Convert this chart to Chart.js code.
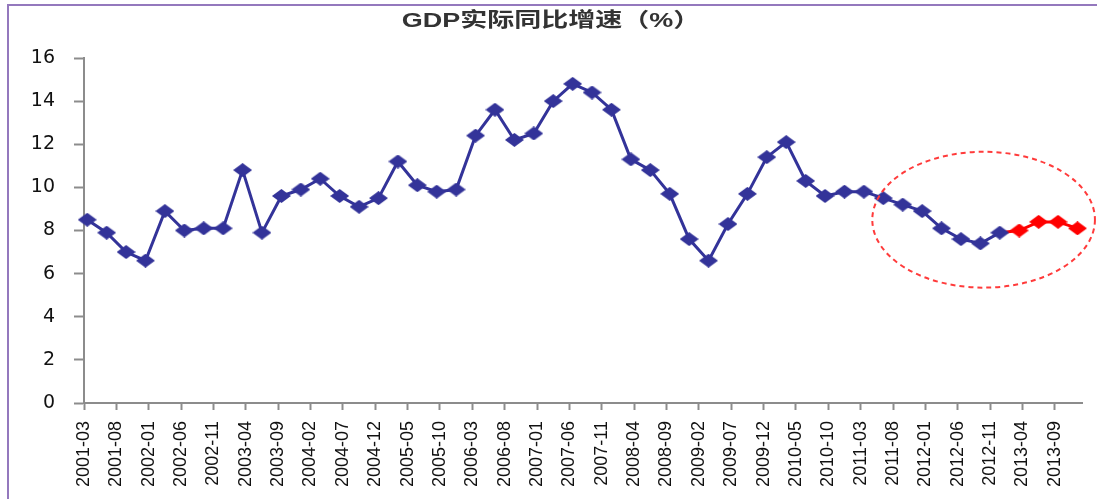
<!DOCTYPE html>
<html>
<head>
<meta charset="utf-8">
<script src="https://cdn.jsdelivr.net/npm/chart.js@4.4.0/dist/chart.umd.min.js"></script>
<style>
  html, body { margin: 0; padding: 0; background: #fff; }
  #wrap { width: 1097px; height: 499px; position: relative; }
</style>
</head>
<body>
<div id="wrap"><canvas id="gdpChart"></canvas></div>
<script>
const chartTitle = 'GDP实际同比增速（%）';

// quarter end months, 2001 Q1 .. 2013 Q4
const quarters = [
    '2001-03', '2001-06', '2001-09', '2001-12',
    '2002-03', '2002-06', '2002-09', '2002-12',
    '2003-03', '2003-06', '2003-09', '2003-12',
    '2004-03', '2004-06', '2004-09', '2004-12',
    '2005-03', '2005-06', '2005-09', '2005-12',
    '2006-03', '2006-06', '2006-09', '2006-12',
    '2007-03', '2007-06', '2007-09', '2007-12',
    '2008-03', '2008-06', '2008-09', '2008-12',
    '2009-03', '2009-06', '2009-09', '2009-12',
    '2010-03', '2010-06', '2010-09', '2010-12',
    '2011-03', '2011-06', '2011-09', '2011-12',
    '2012-03', '2012-06', '2012-09', '2012-12',
    '2013-03', '2013-06', '2013-09', '2013-12'
];

// actual growth (blue)
const actual = [
    8.5, 7.9, 7.0, 6.6,
    8.9, 8.0, 8.1, 8.1,
    10.8, 7.9, 9.6, 9.9,
    10.4, 9.6, 9.1, 9.5,
    11.2, 10.1, 9.8, 9.9,
    12.4, 13.6, 12.2, 12.5,
    14.0, 14.8, 14.4, 13.6,
    11.3, 10.8, 9.7, 7.6,
    6.6, 8.3, 9.7, 11.4,
    12.1, 10.3, 9.6, 9.8,
    9.8, 9.5, 9.2, 8.9,
    8.1, 7.6, 7.4, 7.9
];

// forecast for 2013 (red)
const forecast = [8.0, 8.4, 8.4, 8.1];

const tickLabels = [
    '2001-03', '2001-08', '2002-01', '2002-06', '2002-11', '2003-04', '2003-09',
    '2004-02', '2004-07', '2004-12', '2005-05', '2005-10', '2006-03', '2006-08',
    '2007-01', '2007-06', '2007-11', '2008-04', '2008-09', '2009-02', '2009-07',
    '2009-12', '2010-05', '2010-10', '2011-03', '2011-08', '2012-01', '2012-06',
    '2012-11', '2013-04', '2013-09'
];

const blue = '#333399';
const red = '#ff0000';
const axisGray = '#8c8c8c';
const fontFamily = "'Liberation Sans', Arial, 'Noto Sans CJK SC', sans-serif";

// months counted from 2001-03 (the date axis runs on months)
function monthIndex(s) {
    const [y, m] = s.split('-').map(Number);
    return (y - 2001) * 12 + (m - 3);
}

// Excel-style diamond, a bit wider than tall
function diamond(color, w, h) {
    const c = document.createElement('canvas');
    c.width = w;
    c.height = h;
    const g = c.getContext('2d');
    g.fillStyle = color;
    g.beginPath();
    g.moveTo(w / 2, 0);
    g.lineTo(w, h / 2);
    g.lineTo(w / 2, h);
    g.lineTo(0, h / 2);
    g.closePath();
    g.fill();
    return c;
}
const blueDiamond = diamond(blue, 19, 14);
const redDiamond = diamond(red, 19, 14);

const values = actual.concat(forecast);
// points sit mid-month on the date axis
const points = quarters.map((q, i) => ({ x: monthIndex(q) + 0.5, y: values[i] }));

// dashed ring around the recent slowdown
const ring = { center: '2012-10', value: 8.5, halfMonths: 17.2, halfValue: 3.15 };

const frame = {
    id: 'frame',
    beforeDraw(chart) {
        const { ctx, width, height } = chart;
        ctx.save();
        ctx.fillStyle = '#fff';
        ctx.fillRect(0, 0, width, height);
        ctx.strokeStyle = '#9478bd';
        ctx.lineWidth = 2;
        ctx.beginPath();
        ctx.moveTo(8, height);
        ctx.lineTo(8, 5);
        ctx.lineTo(width, 5);
        ctx.stroke();
        ctx.restore();
    }
};

const ringPlugin = {
    id: 'ring',
    afterDatasetsDraw(chart) {
        const { ctx, scales: { x, y } } = chart;
        const m = monthIndex(ring.center);
        const cx = x.getPixelForValue(m);
        const cy = y.getPixelForValue(ring.value);
        const rx = x.getPixelForValue(m + ring.halfMonths) - cx;
        const ry = cy - y.getPixelForValue(ring.value + ring.halfValue);
        ctx.save();
        ctx.strokeStyle = '#ff3b3b';
        ctx.lineWidth = 2;
        ctx.setLineDash([5, 4]);
        ctx.beginPath();
        ctx.ellipse(cx, cy, rx, ry, 0, 0, Math.PI * 2);
        ctx.stroke();
        ctx.restore();
    }
};

// title is drawn a little stretched, like the source picture
const titlePlugin = {
    id: 'stretchedTitle',
    afterDraw(chart) {
        const { ctx } = chart;
        ctx.save();
        ctx.translate(551, 21);
        ctx.scale(1.35, 1);
        ctx.font = 'bold 20px ' + fontFamily;
        ctx.fillStyle = '#333';
        ctx.textAlign = 'center';
        ctx.textBaseline = 'middle';
        ctx.fillText(chartTitle, 0, 0);
        ctx.restore();
    }
};

const ctx = document.getElementById('gdpChart').getContext('2d');
new Chart(ctx, {
    type: 'line',
    data: {
        datasets: [{
            data: points,
            borderColor: blue,
            borderWidth: 3,
            tension: 0,
            clip: false,
            pointRadius: 9,
            pointStyle: c => c.dataIndex >= actual.length ? redDiamond : blueDiamond,
            segment: {
                borderColor: c => c.p1DataIndex >= actual.length ? red : undefined
            }
        }]
    },
    options: {
        responsive: true,
        maintainAspectRatio: false,
        animation: false,
        layout: { padding: { top: 58, right: 15, left: 0, bottom: 0 } },
        scales: {
            x: {
                type: 'linear',
                min: 0,
                max: 154.2,
                afterBuildTicks: axis => {
                    axis.ticks = tickLabels.map(l => ({ value: monthIndex(l) }));
                },
                afterFit: axis => { axis.height = 96; },
                grid: {
                    drawOnChartArea: false,
                    drawTicks: true,
                    tickLength: 7,
                    tickWidth: 2,
                    tickColor: axisGray
                },
                border: { display: true, color: axisGray, width: 2 },
                ticks: {
                    autoSkip: false,
                    minRotation: 90,
                    maxRotation: 90,
                    padding: 11,
                    color: '#111',
                    font: { family: fontFamily, size: 18 },
                    callback: (value, index) => tickLabels[index]
                }
            },
            y: {
                min: 0,
                max: 16,
                afterFit: axis => { axis.width = 84; },
                grid: {
                    drawOnChartArea: false,
                    drawTicks: true,
                    tickLength: 10,
                    tickWidth: 2,
                    tickColor: axisGray
                },
                border: { display: true, color: axisGray, width: 2 },
                ticks: {
                    stepSize: 2,
                    padding: 19,
                    color: '#111',
                    font: { family: "'DejaVu Sans', sans-serif", size: 19 }
                }
            }
        },
        plugins: {
            legend: { display: false },
            tooltip: { enabled: false },
            title: { display: false }
        }
    },
    plugins: [frame, ringPlugin, titlePlugin]
});
</script>
</body>
</html>
